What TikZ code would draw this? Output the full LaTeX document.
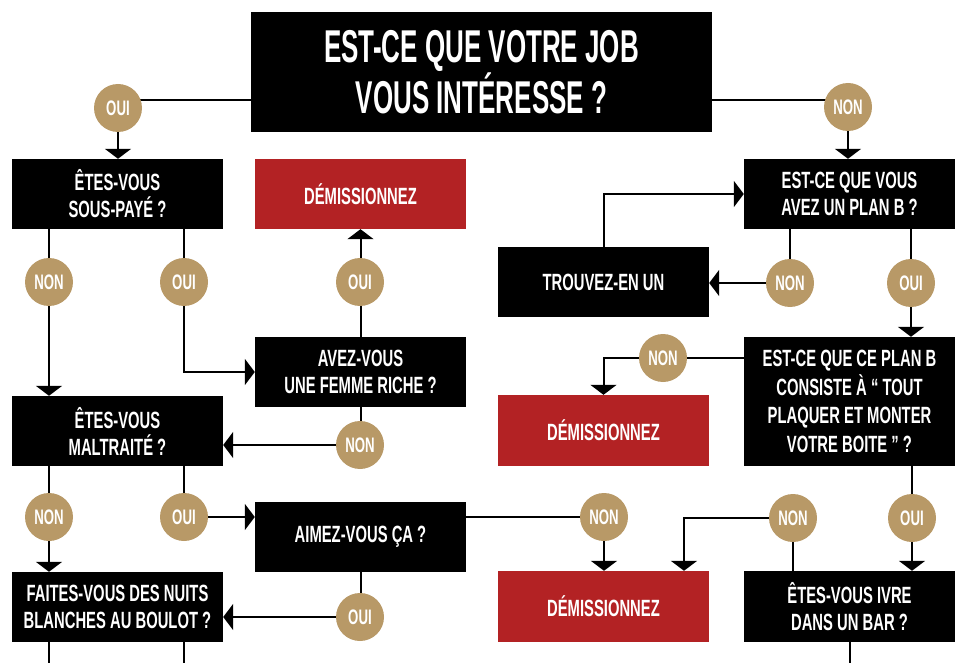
\documentclass[tikz,border=0pt]{standalone}
\usepackage{fontspec}
\newfontfamily\chartfont{Liberation Sans}[FakeStretch=0.63]
\newfontfamily\titlefont{Liberation Sans}[FakeStretch=0.565]
\usetikzlibrary{arrows.meta}
\usetikzlibrary{backgrounds}
\definecolor{chartgold}{RGB}{184,153,103}
\definecolor{chartred}{RGB}{179,34,36}

\begin{document}
\begin{tikzpicture}[x=1pt,y=-1pt,
    question/.style={fill=black,text=white,minimum width=211pt,minimum height=70pt,inner sep=0pt,align=center,font=\chartfont\bfseries\fontsize{23.5}{27}\selectfont},
    quit/.style={question,fill=chartred},
    answer/.style={circle,fill=chartgold,text=white,minimum size=48pt,inner sep=0pt,font=\chartfont\bfseries\fontsize{21}{21}\selectfont},
    link/.style={line width=2pt},
    arrowlink/.style={link,-{Triangle[width=26pt,length=10pt]}}]
    \useasboundingbox (0,0) rectangle (964,663);
    \node [question,minimum width=461pt,minimum height=120pt,font=\titlefont\bfseries\fontsize{46}{45}\selectfont] (title) at (481.5,72) {EST-CE QUE VOTRE JOB\\VOUS INTÉRESSE ?};
    \node [question] (sous) at (117.5,194) {ÊTES-VOUS\\SOUS-PAYÉ ?};
    \node [quit] (dem1) at (360.5,194) {DÉMISSIONNEZ};
    \node [question] (femme) at (360.5,372) {AVEZ-VOUS\\UNE FEMME RICHE ?};
    \node [question] (maltr) at (117.5,431) {ÊTES-VOUS\\MALTRAITÉ ?};
    \node [question] (aimez) at (360.5,537) {AIMEZ-VOUS ÇA ?};
    \node [question] (faites) at (117.5,607) {FAITES-VOUS DES NUITS\\BLANCHES AU BOULOT ?};
    \node [question] (planb) at (849.5,194) {EST-CE QUE VOUS\\AVEZ UN PLAN B ?};
    \node [question] (trouv) at (603.5,282) {TROUVEZ-EN UN};
    \node [question,minimum height=129pt,font=\chartfont\bfseries\fontsize{23.5}{28.5}\selectfont] (consist) at (849.5,401.5) {EST-CE QUE CE PLAN B\\CONSISTE À “ TOUT\\PLAQUER ET MONTER\\VOTRE BOITE ” ?};
    \node [quit,minimum height=71pt] (dem2) at (603.5,430.5) {DÉMISSIONNEZ};
    \node [quit,minimum height=71pt] (dem3) at (603.5,606.5) {DÉMISSIONNEZ};
    \node [question,minimum height=71pt] (ivre) at (849.5,606.5) {ÊTES-VOUS IVRE\\DANS UN BAR ?};
    \foreach \n/\t/\x/\y in {oui0/OUI/118/108, non0/NON/848/107, non1/NON/49/282, oui1/OUI/184/282,
        oui2/OUI/360/282, non2/NON/360/445, non3/NON/49/517, oui3/OUI/184/517, non4/NON/604/517,
        oui4/OUI/360/617, non5/NON/790/283, oui5/OUI/911/283, non6/NON/663/358, oui6/OUI/912/518,
        non7/NON/793/518}
        \node [answer] (\n) at (\x,\y) {\t};
    \coordinate (bot1) at (49,663);
    \coordinate (bot2) at (184,663);
    \coordinate (bot3) at (850,663);
    \begin{pgfonlayer}{background}
    \draw[arrowlink] ([yshift=-28pt]title.west) -| (sous.north -| oui0);
    \draw[arrowlink] ([yshift=-28pt]title.east) -| (planb.north -| non0);
    \draw[arrowlink] (sous.south -| non1) -- (maltr.north -| non1);
    \draw[arrowlink] (sous.south -| oui1) |- (femme.west);
    \draw[arrowlink] (femme.north) -- (dem1.south);
    \draw[arrowlink] (femme.south) |- (maltr.east |- non2);
    \draw[arrowlink] (maltr.south -| non3) -- (faites.north -| non3);
    \draw[arrowlink] (maltr.south -| oui3) |- (aimez.west |- oui3);
    \draw[arrowlink] (aimez.east |- non4) -| (dem3.north -| non4);
    \draw[arrowlink] (aimez.south) |- (faites.east |- oui4);
    \draw[link] (faites.south -| bot1) -- (bot1);
    \draw[link] (faites.south -| bot2) -- (bot2);
    \draw[arrowlink] (trouv.north) |- (planb.west);
    \draw[arrowlink] (planb.south -| non5) |- (trouv.east |- non5);
    \draw[arrowlink] (planb.south -| oui5) -- (consist.north -| oui5);
    \draw[arrowlink] (consist.west |- non6) -| (dem2.north);
    \draw[arrowlink] (consist.south -| oui6) -- (ivre.north -| oui6);
    \draw[arrowlink] (ivre.north -| non7) -- (non7.center) -| ([xshift=80.5pt]dem3.north);
    \draw[link] (ivre.south -| bot3) -- (bot3);
    \end{pgfonlayer}
\end{tikzpicture}
\end{document}
